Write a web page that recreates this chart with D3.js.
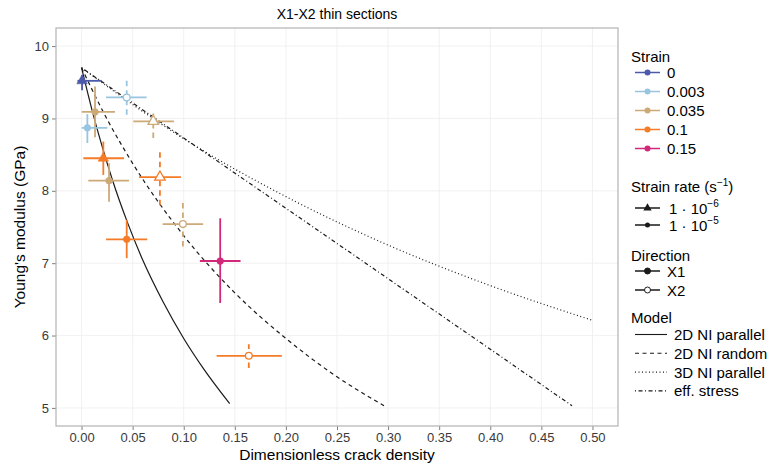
<!DOCTYPE html>
<html>
<head>
<meta charset="utf-8">
<title>X1-X2 thin sections</title>
<script src="https://cdn.jsdelivr.net/npm/d3@7"></script>
<style>
    body { margin: 0; background: #fff; }
    svg text { font-family: "Liberation Sans", Arial, sans-serif; }
</style>
</head>
<body>
<svg id="chart" width="771" height="466"></svg>
<script>
    // strain levels and their colours
    var strainLevels = ["0", "0.003", "0.035", "0.1", "0.15"];
    var strainColors = ["#4b5aa9", "#98c5df", "#cda977", "#f47b27", "#d1287a"];

    var ptStrain = ["0", "0.003", "0.035", "0.003", "0.035", "0.1", "0.035", "0.1", "0.035", "0.1", "0.15", "0.1"];
    var ptRate   = ["1e-6", "1e-5", "1e-5", "1e-5", "1e-6", "1e-6", "1e-5", "1e-6", "1e-5", "1e-5", "1e-5", "1e-5"];
    var ptDir    = ["X1", "X2", "X1", "X1", "X2", "X1", "X1", "X2", "X2", "X1", "X1", "X2"];
    var ptX      = [0.0005, 0.0442, 0.0132, 0.0057, 0.0702, 0.0213, 0.0269, 0.0767, 0.0992, 0.0442, 0.1357, 0.1637];
    var ptXmin   = [-0.004, 0.024, 0.0002, 0.0002, 0.0506, 0.0018, 0.0066, 0.0562, 0.0794, 0.024, 0.1158, 0.1322];
    var ptXmax   = [0.0197, 0.0637, 0.0327, 0.0252, 0.0904, 0.0415, 0.0464, 0.0973, 0.119, 0.0643, 0.1556, 0.196];
    var ptY      = [9.52, 9.29, 9.09, 8.87, 8.96, 8.45, 8.14, 8.19, 7.54, 7.33, 7.03, 5.72];
    var ptYmin   = [9.39, 9.05, 8.74, 8.66, 8.73, 8.22, 7.85, 7.80, 7.23, 7.07, 6.45, 5.55];
    var ptYmax   = [9.60, 9.54, 9.44, 9.06, 9.09, 8.68, 8.38, 8.56, 7.85, 7.60, 7.62, 5.88];

    // model curves
    var npX = [0, 0.01, 0.02, 0.03, 0.045, 0.06, 0.08, 0.1, 0.12, 0.145];
    var npY = [9.70, 9.13, 8.62, 8.16, 7.56, 7.04, 6.46, 5.96, 5.53, 5.06];
    var nrX = [0, 0.025, 0.05, 0.1, 0.15, 0.2, 0.25, 0.296];
    var nrY = [9.70, 8.99, 8.38, 7.38, 6.59, 5.96, 5.43, 5.03];
    var n3X = [0, 0.1, 0.2, 0.3, 0.4, 0.5];
    var n3Y = [9.70, 8.72, 7.92, 7.25, 6.69, 6.21];
    var esX = [0, 0.24, 0.48];
    var esY = [9.70, 7.37, 5.03];

    var modelNames = ["2D NI parallel", "2D NI random", "3D NI parallel", "eff. stress"];
    var modelDash = [null, "4,3.5", "1,2.5", "1,2.5,4,2.5"];

    var xTicks = [0, 0.05, 0.1, 0.15, 0.2, 0.25, 0.3, 0.35, 0.4, 0.45, 0.5];
    var yTicks = [5, 6, 7, 8, 9, 10];

    var svg = d3.select("#chart");
    var pL = 56, pR = 618, pT = 28, pB = 426;

    var x = d3.scaleLinear().domain([-0.025, 0.525]).range([pL, pR]);
    var y = d3.scaleLinear().domain([4.75, 10.25]).range([pB, pT]);
    var colorOf = d3.scaleOrdinal().domain(strainLevels).range(strainColors);

    // grid
    svg.append("g").selectAll("line").data(xTicks).enter().append("line")
        .attr("x1", function(d) { return x(d); }).attr("x2", function(d) { return x(d); })
        .attr("y1", pT).attr("y2", pB)
        .attr("stroke", "#ededed").attr("stroke-width", 0.8);
    svg.append("g").selectAll("line").data(yTicks).enter().append("line")
        .attr("y1", function(d) { return y(d); }).attr("y2", function(d) { return y(d); })
        .attr("x1", pL).attr("x2", pR)
        .attr("stroke", "#ededed").attr("stroke-width", 0.8);

    // axes
    var xAxis = svg.append("g").attr("transform", "translate(0," + pB + ")")
        .call(d3.axisBottom(x).tickValues(xTicks).tickFormat(d3.format(".2f")).tickSize(4).tickPadding(3));
    var yAxis = svg.append("g").attr("transform", "translate(" + pL + ",0)")
        .call(d3.axisLeft(y).tickValues(yTicks).tickFormat(d3.format("d")).tickSize(4).tickPadding(3));
    [xAxis, yAxis].forEach(function(a) {
        a.select(".domain").remove();
        a.selectAll("line").attr("stroke", "#7f7f7f");
        a.selectAll("text").attr("fill", "#3a3a3a").style("font-size", "13px");
    });

    // model curves
    var curves = [[npX, npY], [nrX, nrY], [n3X, n3Y], [esX, esY]];
    var line = d3.line().curve(d3.curveMonotoneX)
        .x(function(d) { return x(d[0]); }).y(function(d) { return y(d[1]); });
    curves.forEach(function(c, i) {
        svg.append("path")
            .datum(d3.zip(c[0], c[1]))
            .attr("d", line)
            .attr("fill", "none")
            .attr("stroke", "#1a1a1a")
            .attr("stroke-width", 1.2)
            .attr("stroke-dasharray", modelDash[i]);
    });

    // points with error bars
    var pts = ptX.map(function(d, i) {
        return { strain: ptStrain[i], rate: ptRate[i], dir: ptDir[i], x: d,
                 xmin: ptXmin[i], xmax: ptXmax[i], y: ptY[i], ymin: ptYmin[i], ymax: ptYmax[i] };
    });
    var g = svg.append("g").selectAll("g").data(pts).enter().append("g");
    g.append("line")
        .attr("x1", function(d) { return x(d.xmin); }).attr("x2", function(d) { return x(d.xmax); })
        .attr("y1", function(d) { return y(d.y); }).attr("y2", function(d) { return y(d.y); })
        .attr("stroke", function(d) { return colorOf(d.strain); }).attr("stroke-width", 1.8);
    g.append("line")
        .attr("x1", function(d) { return x(d.x); }).attr("x2", function(d) { return x(d.x); })
        .attr("y1", function(d) { return y(d.ymin); }).attr("y2", function(d) { return y(d.ymax); })
        .attr("stroke", function(d) { return colorOf(d.strain); }).attr("stroke-width", 1.8)
        .attr("stroke-dasharray", function(d) { return d.dir == "X2" ? "5.5,4" : null; });
    var sym = d3.symbol().type(function(d) { return d.rate == "1e-6" ? d3.symbolTriangle : d3.symbolCircle; })
        .size(function(d) { return d.rate == "1e-6" ? 48 : 36; });
    g.append("path")
        .attr("d", sym)
        .attr("transform", function(d) { return "translate(" + x(d.x) + "," + y(d.y) + ")"; })
        .attr("fill", function(d) { return d.dir == "X2" ? "#fff" : colorOf(d.strain); })
        .attr("stroke", function(d) { return colorOf(d.strain); })
        .attr("stroke-width", function(d) { return d.dir == "X2" ? 1.3 : 0.5; });

    // panel border
    svg.append("rect").attr("x", pL).attr("y", pT)
        .attr("width", pR - pL).attr("height", pB - pT)
        .attr("fill", "none").attr("stroke", "#b3b3b3").attr("stroke-width", 1.2);

    // titles
    svg.append("text").attr("x", (pL + pR) / 2).attr("y", 19)
        .attr("text-anchor", "middle").style("font-size", "14px").text("X1-X2 thin sections");
    svg.append("text").attr("x", (pL + pR) / 2).attr("y", 460)
        .attr("text-anchor", "middle").style("font-size", "15.5px").text("Dimensionless crack density");
    svg.append("text").attr("transform", "translate(25," + (pT + pB) / 2 + ") rotate(-90)")
        .attr("text-anchor", "middle").style("font-size", "15.5px").text("Young's modulus (GPa)");

    // legends
    var lg = svg.append("g").attr("transform", "translate(631,0)");
    function legendTitle(yy, txt) {
        return lg.append("text").attr("x", 0).attr("y", yy).style("font-size", "15px").text(txt);
    }

    legendTitle(62, "Strain");
    strainLevels.forEach(function(s, i) {
        var yy = 72.5 + i * 19;
        lg.append("line").attr("x1", 4).attr("x2", 29).attr("y1", yy).attr("y2", yy)
            .attr("stroke", strainColors[i]).attr("stroke-width", 1.5);
        lg.append("circle").attr("cx", 16.5).attr("cy", yy).attr("r", 3).attr("fill", strainColors[i]);
        lg.append("text").attr("x", 36).attr("y", yy + 5.5).style("font-size", "15px").text(s);
    });

    var rt = legendTitle(192, "Strain rate (s");
    rt.append("tspan").attr("dy", -6).style("font-size", "10px").text("\u22121");
    rt.append("tspan").attr("dy", 6).text(")");
    [["1e-6", "\u22126"], ["1e-5", "\u22125"]].forEach(function(r, i) {
        var yy = 208 + i * 17;
        lg.append("line").attr("x1", 4).attr("x2", 29).attr("y1", yy).attr("y2", yy)
            .attr("stroke", "#1a1a1a").attr("stroke-width", 1.5);
        lg.append("path").attr("d", d3.symbol().type(i == 0 ? d3.symbolTriangle : d3.symbolCircle).size(i == 0 ? 30 : 20))
            .attr("transform", "translate(16.5," + yy + ")").attr("fill", "#1a1a1a");
        var t = lg.append("text").attr("x", 38).attr("y", yy + 5.5).style("font-size", "15px").text("1 \u00b7 10");
        t.append("tspan").attr("dy", -7).style("font-size", "10px").text(r[1]);
    });

    legendTitle(261, "Direction");
    ["X1", "X2"].forEach(function(dname, i) {
        var yy = 271 + i * 19;
        lg.append("line").attr("x1", 4).attr("x2", 29).attr("y1", yy).attr("y2", yy)
            .attr("stroke", "#1a1a1a").attr("stroke-width", 1.5);
        lg.append("circle").attr("cx", 16.5).attr("cy", yy).attr("r", 3)
            .attr("fill", i == 0 ? "#1a1a1a" : "#fff").attr("stroke", "#1a1a1a").attr("stroke-width", 1);
        lg.append("text").attr("x", 36).attr("y", yy + 5.5).style("font-size", "15px").text(dname);
    });

    legendTitle(323, "Model");
    modelNames.forEach(function(m, i) {
        var yy = 334.5 + i * 18.8;
        lg.append("line").attr("x1", 4).attr("x2", 36).attr("y1", yy).attr("y2", yy)
            .attr("stroke", "#1a1a1a").attr("stroke-width", 1.1)
            .attr("stroke-dasharray", modelDash[i]);
        lg.append("text").attr("x", 43).attr("y", yy + 5.5).style("font-size", "15px").text(m);
    });
</script>
</body>
</html>
